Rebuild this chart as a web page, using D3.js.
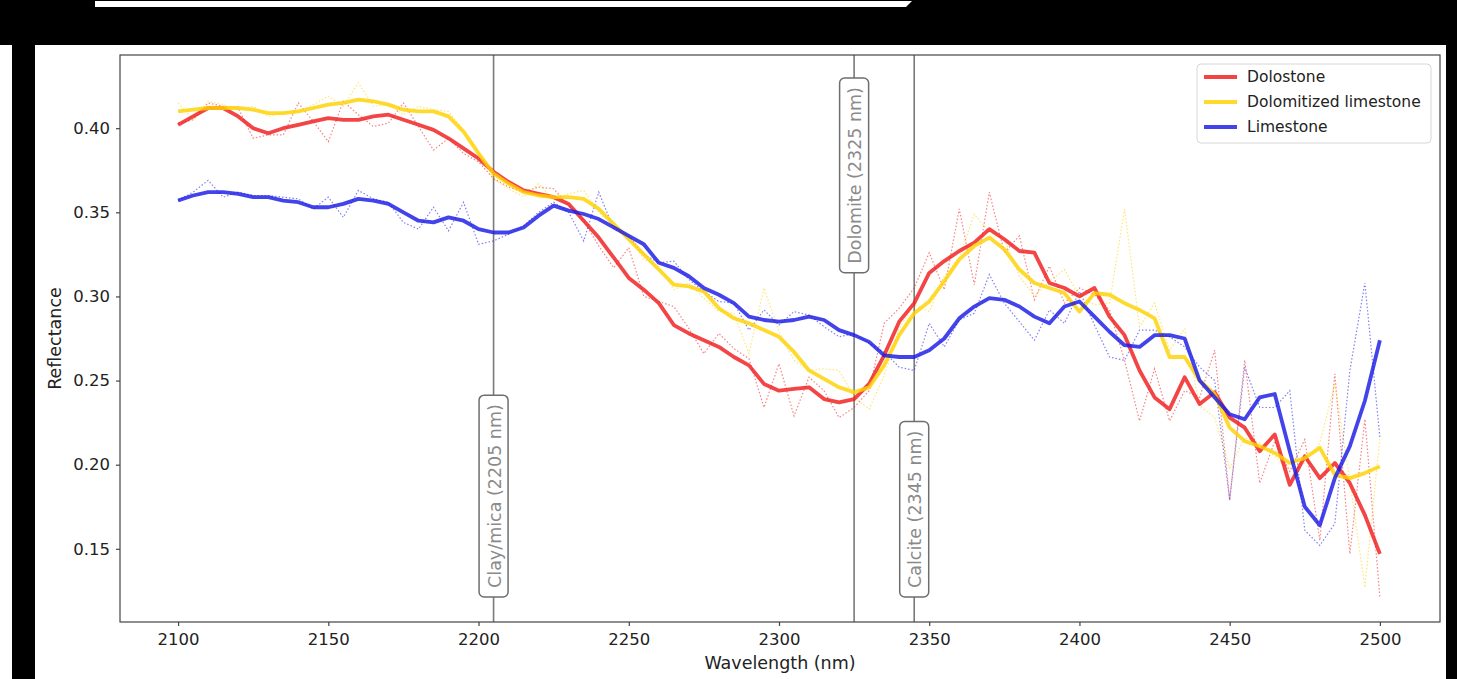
<!DOCTYPE html>
<html>
<head>
<meta charset="utf-8">
<script src="https://cdn.jsdelivr.net/npm/d3@7"></script>
<style>
  body { margin: 0; background: #000; }
  svg { display: block; font-family: "DejaVu Sans", sans-serif; }
</style>
</head>
<body>
<div id="chart"></div>
<script>
// wavelength (nm)
var wavelengths = [2100, 2105, 2110, 2115, 2120, 2125, 2130, 2135, 2140, 2145,
  2150, 2155, 2160, 2165, 2170, 2175, 2180, 2185, 2190, 2195,
  2200, 2205, 2210, 2215, 2220, 2225, 2230, 2235, 2240, 2245,
  2250, 2255, 2260, 2265, 2270, 2275, 2280, 2285, 2290, 2295,
  2300, 2305, 2310, 2315, 2320, 2325, 2330, 2335, 2340, 2345,
  2350, 2355, 2360, 2365, 2370, 2375, 2380, 2385, 2390, 2395,
  2400, 2405, 2410, 2415, 2420, 2425, 2430, 2435, 2440, 2445,
  2450, 2455, 2460, 2465, 2470, 2475, 2480, 2485, 2490, 2495, 2500];

// smoothed reflectance
var dolostone = [0.402, 0.407, 0.412, 0.412, 0.407, 0.400, 0.397, 0.400, 0.402, 0.404,
  0.406, 0.405, 0.405, 0.407, 0.408, 0.405, 0.402, 0.399, 0.394, 0.388,
  0.382, 0.374, 0.368, 0.363, 0.361, 0.359, 0.355, 0.345, 0.335, 0.323,
  0.311, 0.304, 0.296, 0.283, 0.278, 0.274, 0.270, 0.264, 0.259, 0.248,
  0.244, 0.245, 0.246, 0.239, 0.237, 0.239, 0.248, 0.265, 0.285, 0.296,
  0.314, 0.321, 0.327, 0.332, 0.340, 0.334, 0.327, 0.326, 0.308, 0.305,
  0.300, 0.305, 0.288, 0.277, 0.256, 0.240, 0.233, 0.252, 0.236, 0.243,
  0.228, 0.222, 0.208, 0.218, 0.188, 0.205, 0.192, 0.201, 0.189, 0.170, 0.147];

var dolomitized = [0.410, 0.411, 0.412, 0.412, 0.412, 0.411, 0.409, 0.409, 0.410, 0.412,
  0.414, 0.415, 0.417, 0.416, 0.414, 0.411, 0.410, 0.410, 0.407, 0.398,
  0.385, 0.373, 0.367, 0.362, 0.360, 0.359, 0.359, 0.358, 0.352, 0.343,
  0.334, 0.325, 0.316, 0.307, 0.306, 0.303, 0.293, 0.287, 0.284, 0.280,
  0.276, 0.267, 0.256, 0.251, 0.246, 0.243, 0.246, 0.259, 0.277, 0.290,
  0.297, 0.309, 0.322, 0.330, 0.335, 0.328, 0.316, 0.308, 0.305, 0.302,
  0.291, 0.302, 0.301, 0.296, 0.292, 0.287, 0.264, 0.264, 0.250, 0.242,
  0.222, 0.214, 0.211, 0.207, 0.201, 0.204, 0.210, 0.194, 0.192, 0.195, 0.199];

var limestone = [0.357, 0.360, 0.362, 0.362, 0.361, 0.359, 0.359, 0.357, 0.356, 0.353,
  0.353, 0.355, 0.358, 0.357, 0.355, 0.350, 0.345, 0.344, 0.347, 0.345,
  0.340, 0.338, 0.338, 0.341, 0.348, 0.354, 0.351, 0.349, 0.346, 0.341,
  0.336, 0.331, 0.320, 0.317, 0.312, 0.305, 0.301, 0.296, 0.288, 0.286,
  0.285, 0.286, 0.288, 0.286, 0.280, 0.277, 0.273, 0.265, 0.264, 0.264,
  0.268, 0.275, 0.287, 0.294, 0.299, 0.298, 0.294, 0.288, 0.284, 0.294,
  0.297, 0.288, 0.279, 0.271, 0.270, 0.277, 0.277, 0.275, 0.250, 0.240,
  0.230, 0.227, 0.240, 0.242, 0.208, 0.175, 0.164, 0.192, 0.211, 0.238, 0.274];

// raw (unsmoothed) reflectance, drawn dotted
var dolostoneRaw = [0.403, 0.405, 0.415, 0.413, 0.412, 0.394, 0.396, 0.396, 0.415, 0.404,
  0.392, 0.416, 0.408, 0.401, 0.403, 0.415, 0.401, 0.387, 0.394, 0.385,
  0.380, 0.370, 0.365, 0.362, 0.365, 0.364, 0.354, 0.345, 0.330, 0.317,
  0.329, 0.300, 0.297, 0.294, 0.281, 0.266, 0.278, 0.269, 0.263, 0.234,
  0.260, 0.229, 0.252, 0.244, 0.228, 0.234, 0.244, 0.284, 0.293, 0.305,
  0.326, 0.304, 0.352, 0.307, 0.362, 0.326, 0.336, 0.298, 0.318, 0.296,
  0.305, 0.301, 0.292, 0.262, 0.226, 0.257, 0.226, 0.244, 0.240, 0.268,
  0.179, 0.262, 0.189, 0.214, 0.196, 0.215, 0.155, 0.254, 0.147, 0.227, 0.121];

var dolomitizedRaw = [0.415, 0.405, 0.416, 0.414, 0.411, 0.413, 0.407, 0.409, 0.410, 0.414,
  0.419, 0.413, 0.427, 0.413, 0.414, 0.408, 0.413, 0.411, 0.410, 0.399,
  0.386, 0.370, 0.364, 0.359, 0.367, 0.357, 0.361, 0.363, 0.350, 0.342,
  0.336, 0.322, 0.318, 0.304, 0.308, 0.299, 0.291, 0.290, 0.266, 0.305,
  0.279, 0.262, 0.256, 0.257, 0.256, 0.240, 0.233, 0.253, 0.281, 0.295,
  0.291, 0.312, 0.323, 0.349, 0.338, 0.334, 0.312, 0.300, 0.309, 0.316,
  0.300, 0.295, 0.296, 0.352, 0.282, 0.296, 0.268, 0.281, 0.235, 0.228,
  0.198, 0.216, 0.213, 0.205, 0.197, 0.201, 0.213, 0.248, 0.190, 0.127, 0.216];

var limestoneRaw = [0.357, 0.362, 0.369, 0.359, 0.362, 0.360, 0.360, 0.359, 0.358, 0.352,
  0.359, 0.347, 0.363, 0.358, 0.356, 0.344, 0.340, 0.353, 0.339, 0.356,
  0.331, 0.333, 0.337, 0.342, 0.350, 0.356, 0.350, 0.333, 0.362, 0.340,
  0.336, 0.325, 0.320, 0.321, 0.310, 0.303, 0.297, 0.296, 0.280, 0.292,
  0.283, 0.291, 0.289, 0.282, 0.276, 0.278, 0.272, 0.267, 0.258, 0.256,
  0.284, 0.270, 0.286, 0.290, 0.313, 0.296, 0.285, 0.274, 0.292, 0.284,
  0.303, 0.283, 0.264, 0.262, 0.280, 0.280, 0.276, 0.270, 0.258, 0.250,
  0.179, 0.258, 0.234, 0.234, 0.244, 0.161, 0.152, 0.165, 0.256, 0.308, 0.216];

var seriesNames = ["Dolostone", "Dolomitized limestone", "Limestone"];
var seriesColors = ["#f01c1c", "#ffd200", "#1a1ae6"];

// absorption features marked on the plot
var bandWavelengths = [2205, 2325, 2345];
var bandLabels = ["Clay/mica (2205 nm)", "Dolomite (2325 nm)", "Calcite (2345 nm)"];

var xTicks = [2100, 2150, 2200, 2250, 2300, 2350, 2400, 2450, 2500];
var yTicks = [0.15, 0.20, 0.25, 0.30, 0.35, 0.40];

var svgWidth = 1457;
var svgHeight = 679;
var margin = { top: 55, right: 17, bottom: 57, left: 120 };
var width = svgWidth - margin.left - margin.right;
var height = svgHeight - margin.top - margin.bottom;

var svg = d3.select("#chart")
  .append("svg")
  .attr("width", svgWidth)
  .attr("height", svgHeight);

// screenshot frame: black borders round a white figure
svg.append("rect").attr("width", svgWidth).attr("height", svgHeight).attr("fill", "#000");
svg.append("rect").attr("x", 35).attr("y", 45).attr("width", 1411).attr("height", svgHeight - 45).attr("fill", "#fff");
svg.append("rect").attr("x", 0).attr("y", 45).attr("width", 12).attr("height", svgHeight - 45).attr("fill", "#fff");
svg.append("path").attr("d", "M95,1 L912,1 L906,7 L95,7 Z").attr("fill", "#fff");

var chartGroup = svg.append("g")
  .attr("transform", `translate(${margin.left}, ${margin.top})`);

var xScale = d3.scaleLinear().domain([2080, 2520]).range([-2, width]);
var yScale = d3.scaleLinear().domain([0.1065, 0.4435]).range([height, 0]);

chartGroup.append("rect").attr("width", width).attr("height", height).attr("fill", "#fff");

var xAxis = d3.axisBottom(xScale).tickValues(xTicks).tickFormat(d3.format("d")).tickSizeOuter(0).tickSize(4).tickPadding(7);
var yAxis = d3.axisLeft(yScale).tickValues(yTicks).tickFormat(d3.format(".2f")).tickSizeOuter(0).tickSize(4).tickPadding(6);

var gx = chartGroup.append("g").attr("transform", `translate(0, ${height})`).call(xAxis);
var gy = chartGroup.append("g").call(yAxis);
[gx, gy].forEach(g => {
  g.select(".domain").remove();
  g.selectAll("line").attr("stroke", "#444").attr("stroke-width", 1.2);
  g.selectAll("text").attr("fill", "#222").style("font-size", "16.5px").style("font-family", "DejaVu Sans, sans-serif");
});

// vertical band markers
chartGroup.selectAll(".band")
  .data(bandWavelengths)
  .enter()
  .append("line")
  .attr("x1", d => xScale(d)).attr("x2", d => xScale(d))
  .attr("y1", 0).attr("y2", height)
  .attr("stroke", "#7a7a7a")
  .attr("stroke-width", 1.6);

var rawSets = [dolostoneRaw, dolomitizedRaw, limestoneRaw];
var smoothSets = [dolostone, dolomitized, limestone];

var line = d3.line()
  .x((d, i) => xScale(wavelengths[i]))
  .y(d => yScale(d));

rawSets.forEach((vals, k) => {
  chartGroup.append("path")
    .attr("d", line(vals))
    .attr("fill", "none")
    .attr("stroke", seriesColors[k])
    .attr("stroke-width", 1.2)
    .attr("stroke-dasharray", "1.5,2")
    .attr("opacity", 0.55);
});

smoothSets.forEach((vals, k) => {
  chartGroup.append("path")
    .attr("d", line(vals))
    .attr("fill", "none")
    .attr("stroke", seriesColors[k])
    .attr("stroke-width", 3.8)
    .attr("stroke-linejoin", "round")
    .attr("opacity", 0.82);
});

// rotated label boxes: two sit at the bottom, dolomite hangs from the top
var labelAnchors = [{ v: 0.1214, up: true }, { v: 0.4298, up: false }, { v: 0.1214, up: true }];
bandWavelengths.forEach((w, i) => {
  var g = chartGroup.append("g")
    .attr("transform", `translate(${xScale(w)}, ${yScale(labelAnchors[i].v)}) rotate(-90)`);
  var box = g.append("rect");
  var t = g.append("text")
    .text(bandLabels[i])
    .attr("fill", "#8a8a8a")
    .attr("dominant-baseline", "central")
    .style("font-size", "17.5px");
  var len = t.node().getComputedTextLength();
  var pad = 9;
  var x0 = labelAnchors[i].up ? 0 : -(len + 2 * pad);
  t.attr("x", x0 + pad).attr("y", 1);
  box.attr("x", x0).attr("y", -14.5)
    .attr("width", len + 2 * pad).attr("height", 29)
    .attr("rx", 5)
    .attr("fill", "#fff")
    .attr("stroke", "#6e6e6e")
    .attr("stroke-width", 1.5);
});

// plot frame
chartGroup.append("rect")
  .attr("width", width).attr("height", height)
  .attr("fill", "none")
  .attr("stroke", "#444")
  .attr("stroke-width", 1.2);

// axis labels
chartGroup.append("text")
  .attr("transform", "rotate(-90)")
  .attr("x", -height / 2)
  .attr("y", -59)
  .attr("text-anchor", "middle")
  .attr("fill", "#222")
  .style("font-size", "17.5px")
  .text("Reflectance");

chartGroup.append("text")
  .attr("x", width / 2)
  .attr("y", height + 47)
  .attr("text-anchor", "middle")
  .attr("fill", "#222")
  .style("font-size", "17.5px")
  .text("Wavelength (nm)");

// legend
var legend = svg.append("g").attr("transform", "translate(1197, 64)");
legend.append("rect")
  .attr("width", 234).attr("height", 79).attr("rx", 4)
  .attr("fill", "#fff").attr("fill-opacity", 0.85)
  .attr("stroke", "#d6d6d6");
seriesNames.forEach((name, k) => {
  var yy = 13 + k * 25;
  legend.append("line")
    .attr("x1", 7).attr("x2", 40).attr("y1", yy).attr("y2", yy)
    .attr("stroke", seriesColors[k]).attr("stroke-width", 3.8).attr("opacity", 0.82);
  legend.append("text")
    .attr("x", 50).attr("y", yy)
    .attr("dominant-baseline", "central")
    .attr("fill", "#222")
    .style("font-size", "15.5px")
    .text(name);
});
</script>
</body>
</html>
